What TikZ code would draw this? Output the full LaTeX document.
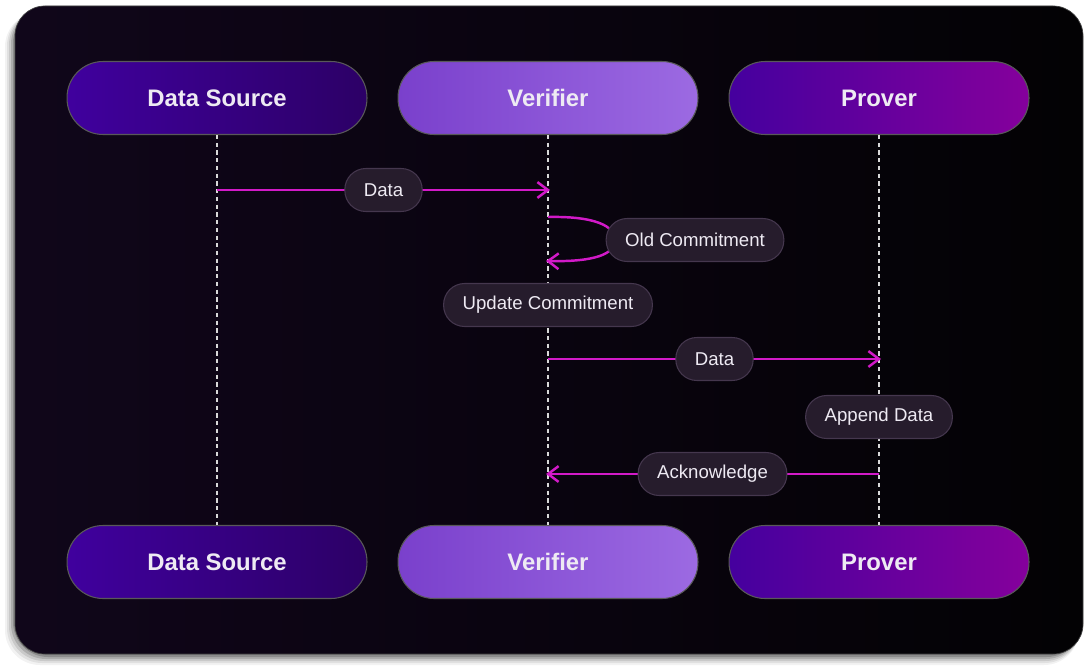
\documentclass[tikz,border=0pt]{standalone}
\usepackage{fontspec}
\setmainfont{Liberation Sans}
\usetikzlibrary{arrows.meta}
\definecolor{cardA}{HTML}{10061A}
\definecolor{cardB}{HTML}{030204}
\definecolor{dsA}{HTML}{40009E}
\definecolor{dsB}{HTML}{2C0066}
\definecolor{veA}{HTML}{7A40CC}
\definecolor{veB}{HTML}{9C6AE2}
\definecolor{prA}{HTML}{45009E}
\definecolor{prB}{HTML}{85009C}
\definecolor{lblfill}{HTML}{261C2C}
\definecolor{lblborder}{HTML}{45374E}
\definecolor{msgc}{HTML}{D21AC8}
\definecolor{txt}{HTML}{EEEAF3}
\tikzset{
  actor/.style={draw=white!35!black, line width=0.6pt, rounded corners=0.72cm,
    minimum width=6cm, minimum height=1.46cm, text=txt,
    font=\fontsize{13.6}{15}\selectfont\bfseries},
  lbl/.style={draw=lblborder, line width=0.6pt, fill=lblfill, rounded corners=0.42cm,
    minimum height=0.86cm, inner xsep=0.38cm, text=txt,
    font=\fontsize{10.6}{12}\selectfont},
  life/.style={draw=white!85!black, line width=0.8pt, dash pattern=on 2.4pt off 2pt},
  msg/.style={draw=msgc, line width=1.4pt, -{Straight Barb[length=6pt,width=9pt,line width=1.4pt]}}
}
\begin{document}
\begin{tikzpicture}[x=0.02cm,y=-0.02cm]
\useasboundingbox (0,0) rectangle (1088,669);
\fill[white] (0,0) rectangle (1088,669);
% card shadow
\foreach \o/\a in {10/0.05,8/0.07,6/0.1,4/0.14,2/0.18}{
  \fill[black, opacity=\a, rounded corners=0.7cm] (15-\o,7+\o*0.5) rectangle (1082-\o*0.3,655+\o);
}
% card
\path[rounded corners=0.6cm, left color=cardA, right color=cardB] (15,6) rectangle (1083,654);
\draw[white!25!black, line width=0.4pt, rounded corners=0.6cm] (15,6) rectangle (1083,654);

% actors top
\node[actor, left color=dsA, right color=dsB] (ds1) at (217,98) {Data Source};
\node[actor, left color=veA, right color=veB] (ve1) at (548,98) {Verifier};
\node[actor, left color=prA, right color=prB] (pr1) at (879,98) {Prover};
% actors bottom
\node[actor, left color=dsA, right color=dsB] (ds2) at (217,562) {Data Source};
\node[actor, left color=veA, right color=veB] (ve2) at (548,562) {Verifier};
\node[actor, left color=prA, right color=prB] (pr2) at (879,562) {Prover};

% lifelines
\draw[life] (ds1.south) -- (ds2.north);
\draw[life] (ve1.south) -- (ve2.north);
\draw[life] (pr1.south) -- (pr2.north);

% message coordinates
\coordinate (m1s) at (217,190);
\coordinate (m1e) at (550,190);
\coordinate (l1s) at (548,217);
\coordinate (l1e) at (546,261);
\coordinate (m2s) at (548,359);
\coordinate (m2e) at (881,359);
\coordinate (m3s) at (879,474);
\coordinate (m3e) at (546,474);

% message 1
\draw[msg] (m1s) -- node[lbl] (t1) {Data} (m1e);
% self loop
\draw[msg] (l1s) .. controls (595,216) and (615,226) .. (615,240) .. controls (615,254) and (595,262) .. (l1e);
\node[lbl] (t2) at (695,240) {Old Commitment};
% update commitment
\node[lbl] (t3) at (548,305) {Update Commitment};
% message 2
\draw[msg] (m2s) -- node[lbl] (t4) {Data} (m2e);
% append data
\node[lbl] (t5) at (879,417) {Append Data};
% acknowledge
\draw[msg] (m3s) -- node[lbl] (t6) {Acknowledge} (m3e);
\end{tikzpicture}
\end{document}
